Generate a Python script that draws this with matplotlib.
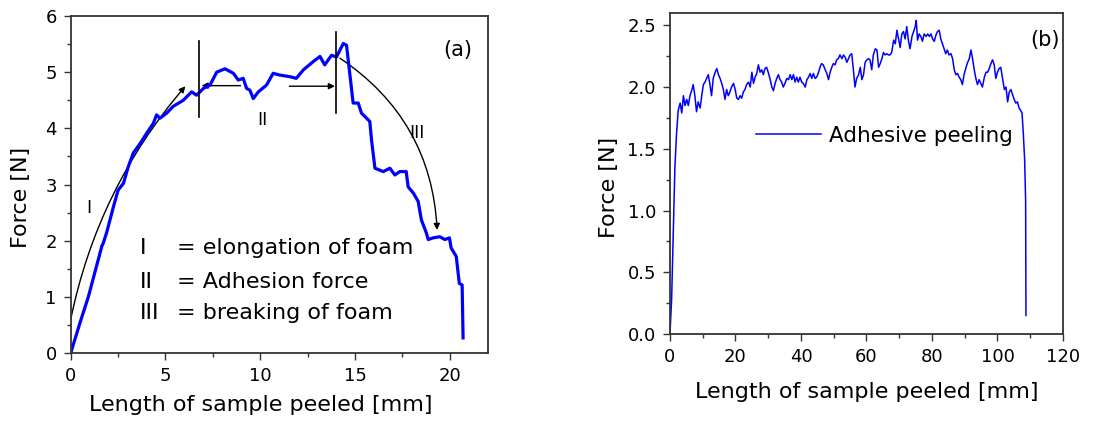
import matplotlib
matplotlib.use("Agg")
import matplotlib.pyplot as plt
from matplotlib.ticker import MultipleLocator, FormatStrFormatter
from matplotlib.patches import FancyArrowPatch

plt.rcParams['font.family'] = ['DejaVu Sans']

# ---------------- data: panel (a) ----------------
a_len = [0.0, 0.5, 0.93, 1.64, 1.72, 1.9, 2.25, 2.5, 2.78, 3.04, 3.3, 3.66, 4.0,
         4.36, 4.53, 4.71, 5.06, 5.4, 5.94, 6.38, 6.64, 7.0, 7.35, 7.7, 8.14, 8.58,
         8.84, 9.1, 9.28, 9.45, 9.63, 9.9, 10.33, 10.68, 11.0, 11.56, 11.9, 12.27,
         12.8, 13.15, 13.4, 13.76, 14.02, 14.38, 14.55, 14.9, 15.17, 15.34, 15.7,
         15.78, 15.87, 16.05, 16.49, 16.84, 17.1, 17.36, 17.7, 17.8, 18.07, 18.33,
         18.5, 18.77, 18.86, 19.12, 19.47, 19.74, 19.98, 20.07, 20.34, 20.5, 20.65,
         20.7]
a_force = [0.0, 0.55, 1.0, 1.9, 1.96, 2.15, 2.6, 2.9, 3.02, 3.32, 3.56, 3.73, 3.91,
           4.09, 4.24, 4.18, 4.27, 4.39, 4.5, 4.65, 4.59, 4.71, 4.77, 5.0, 5.06, 4.98,
           4.86, 4.89, 4.71, 4.68, 4.53, 4.65, 4.77, 4.98, 4.95, 4.92, 4.89, 5.04,
           5.19, 5.28, 5.13, 5.3, 5.27, 5.51, 5.48, 4.45, 4.45, 4.27, 4.15,
           4.12, 3.79, 3.29, 3.23, 3.29, 3.17, 3.23, 3.23, 2.96, 2.85, 2.70,
           2.37, 2.13, 2.02, 2.05, 2.07, 2.02, 2.05, 1.87, 1.72, 1.24, 1.21,
           0.27]

# ---------------- data: panel (b) ----------------
b_len = [0.0, 0.5, 1.0, 1.5, 2.0, 2.5, 3.1, 3.6, 4.1, 4.6, 5.1, 5.6, 6.1, 6.6, 7.1,
         7.6, 8.1, 8.6, 9.2, 9.7, 10.2, 10.7, 11.2, 11.7, 12.2, 12.7, 13.2, 13.8,
         14.3, 14.8, 15.3, 15.8, 16.3, 16.8, 17.3, 17.8, 18.3, 18.8, 19.4, 19.9,
         20.4, 20.9, 21.4, 21.9, 22.4, 22.9, 23.4, 24.0, 24.5, 25.0, 25.5, 26.0,
         26.5, 27.0, 27.5, 28.0, 28.5, 29.0, 29.5, 30.0, 30.6, 31.1, 31.6, 32.1,
         32.6, 33.1, 33.6, 34.1, 34.6, 35.1, 35.7, 36.2, 36.7, 37.2, 37.7, 38.2,
         38.7, 39.2, 39.7, 40.2, 40.7, 41.3, 41.8, 42.3, 42.8, 43.3, 43.8, 44.3,
         44.8, 45.4, 45.8, 46.3, 46.8, 47.4, 47.9, 48.4, 48.9, 49.4, 49.9, 50.4,
         50.9, 51.4, 51.9, 52.5, 53.0, 53.5, 54.0, 54.5, 55.0, 55.5, 56.0, 56.5,
         57.0, 57.6, 58.1, 58.6, 59.1, 59.6, 60.1, 60.6, 61.1, 61.6, 62.1, 62.7,
         63.2, 63.7, 64.2, 64.7, 65.2, 65.7, 66.2, 66.7, 67.2, 67.7, 68.3, 68.8,
         69.3, 69.8, 70.3, 70.8, 71.3, 71.8, 72.3, 72.8, 73.3, 73.9, 74.4, 74.9,
         75.2, 75.6, 76.1, 76.6, 77.1, 77.6, 78.2, 78.7, 79.2, 79.7, 80.2, 80.7,
         81.2, 81.7, 82.2, 82.7, 83.2, 83.7, 84.2, 84.7, 85.2, 85.8, 86.3, 86.8,
         87.3, 87.8, 88.3, 88.8, 89.3, 89.8, 90.4, 90.9, 91.4, 91.9, 92.4, 92.9,
         93.4, 93.9, 94.4, 94.9, 95.4, 96.0, 96.5, 97.0, 97.5, 98.0, 98.5, 99.0,
         99.5, 100.0, 100.5, 101.0, 101.6, 102.1, 102.6, 103.1, 103.6, 104.1,
         104.6, 105.1, 105.6, 106.1, 106.6, 107.1, 107.5, 107.9, 108.3, 108.6,
         108.7]
b_force = [0.0, 0.28, 0.81, 1.35, 1.62, 1.81, 1.87, 1.79, 1.93, 1.85, 1.90, 1.85,
           1.93, 1.97, 2.02, 1.93, 1.80, 1.88, 1.83, 1.93, 2.02, 2.04, 2.07, 2.10,
           2.02, 1.93, 2.07, 2.12, 2.15, 2.10, 2.07, 2.03, 1.98, 1.90, 1.98, 1.93,
           1.96, 2.00, 2.03, 1.98, 1.91, 1.90, 1.93, 1.91, 1.96, 1.98, 2.02, 2.04,
           2.00, 2.12, 2.03, 2.08, 2.11, 2.18, 2.12, 2.14, 2.10, 2.15, 2.16, 2.12,
           2.06, 2.00, 1.97, 2.03, 2.07, 2.10, 2.06, 2.04, 2.00, 2.03, 2.07, 2.06,
           2.10, 2.06, 2.10, 2.04, 2.08, 2.04, 2.08, 2.04, 2.03, 2.00, 2.06, 2.08,
           2.11, 2.07, 2.11, 2.07, 2.08, 2.12, 2.16, 2.19, 2.18, 2.14, 2.11, 2.06,
           2.12, 2.16, 2.19, 2.18, 2.22, 2.23, 2.26, 2.23, 2.26, 2.24, 2.20, 2.23,
           2.26, 2.27, 2.14, 2.00, 2.07, 2.10, 2.16, 2.06, 2.10, 2.20, 2.22, 2.23,
           2.22, 2.14, 2.26, 2.31, 2.30, 2.16, 2.19, 2.23, 2.28, 2.26, 2.27, 2.26,
           2.26, 2.28, 2.38, 2.35, 2.46, 2.39, 2.32, 2.43, 2.45, 2.39, 2.49, 2.38,
           2.31, 2.41, 2.45, 2.49, 2.54, 2.38, 2.43, 2.41, 2.37, 2.43, 2.41, 2.43,
           2.41, 2.43, 2.39, 2.37, 2.42, 2.45, 2.46, 2.39, 2.35, 2.31, 2.27, 2.30,
           2.26, 2.27, 2.23, 2.14, 2.10, 2.11, 2.08, 2.06, 2.02, 2.10, 2.16, 2.20,
           2.23, 2.30, 2.23, 2.14, 2.07, 2.02, 2.06, 2.03, 2.00, 2.08, 2.12, 2.12,
           2.15, 2.19, 2.22, 2.18, 2.07, 2.12, 2.15, 2.16, 2.06, 1.98, 2.00, 1.88,
           1.96, 1.98, 1.94, 1.90, 1.87, 1.88, 1.83, 1.81, 1.79, 1.62, 1.41, 1.08,
           0.15]

# ---------------- annotations (a) ----------------
phase_lines_x = [6.75, 14.02]
phase_lines_y = [(4.21, 5.56), (4.27, 5.72)]
legend_rows = [("I", "= elongation of foam"), ("II", "= Adhesion force"),
               ("III", "= breaking of foam")]
legend_rows_y = [1.87, 1.27, 0.71]

BLUE = '#0000FF'
SPINE = '#333333'

fig = plt.figure(figsize=(11.12, 4.21), dpi=100)
ax1 = fig.add_axes([0.0636, 0.1615, 0.375, 0.8005])
ax2 = fig.add_axes([0.6025, 0.2067, 0.3534, 0.7625])

for ax in (ax1, ax2):
    for s in ax.spines.values():
        s.set_color(SPINE)
        s.set_linewidth(1.3)
    ax.tick_params(which='both', direction='out', top=False, right=False,
                   color=SPINE, labelsize=13, width=1.0)
    ax.tick_params(which='major', length=5, pad=5)
    ax.tick_params(which='minor', length=3)

# panel (a)
ax1.plot(a_len, a_force, color=BLUE, lw=2.3, solid_joinstyle='round')
ax1.set_xlim(0, 22)
ax1.set_ylim(0, 6)
ax1.xaxis.set_major_locator(MultipleLocator(5))
ax1.xaxis.set_minor_locator(MultipleLocator(2.5))
ax1.yaxis.set_major_locator(MultipleLocator(1))
ax1.yaxis.set_minor_locator(MultipleLocator(0.5))
ax1.set_xlabel("Length of sample peeled [mm]", fontsize=16)
ax1.set_ylabel("Force [N]", fontsize=16)
ax1.xaxis.set_label_coords(0.456, -0.125)
ax1.yaxis.set_label_coords(-0.095, 0.463)

for x, (y0, y1) in zip(phase_lines_x, phase_lines_y):
    ax1.plot([x, x], [y0, y1], color='black', lw=1.2)

arrow_kw = dict(arrowstyle='-|>', mutation_scale=9, color='black', lw=1.0,
                shrinkA=0, shrinkB=0)
ax1.add_patch(FancyArrowPatch((0.0, 0.6), (6.05, 4.75),
                              connectionstyle='arc3,rad=-0.13', **arrow_kw))
ax1.add_patch(FancyArrowPatch((14.2, 5.25), (19.33, 2.19),
                              connectionstyle='arc3,rad=-0.25', **arrow_kw))
ax1.add_patch(FancyArrowPatch((8.96, 4.76), (6.9, 4.76), **arrow_kw))
ax1.add_patch(FancyArrowPatch((11.53, 4.75), (13.94, 4.75), **arrow_kw))

ax1.text(0.98, 2.58, "I", fontsize=12.5, ha='center', va='center')
ax1.text(10.12, 4.15, "II", fontsize=12.5, ha='center', va='center')
ax1.text(18.24, 3.91, "III", fontsize=12.5, ha='center', va='center')
for (num, desc), y in zip(legend_rows, legend_rows_y):
    ax1.text(3.66, y, num, fontsize=16, ha='left', va='center')
    ax1.text(5.59, y, desc, fontsize=16, ha='left', va='center')
ax1.text(0.929, 0.899, "(a)", transform=ax1.transAxes, fontsize=15,
         ha='center', va='center')

# panel (b)
ax2.plot(b_len, b_force, color=BLUE, lw=1.1, label="Adhesive peeling")
ax2.set_xlim(0, 120)
ax2.set_ylim(0, 2.6)
ax2.xaxis.set_major_locator(MultipleLocator(20))
ax2.xaxis.set_minor_locator(MultipleLocator(10))
ax2.yaxis.set_major_locator(MultipleLocator(0.5))
ax2.yaxis.set_minor_locator(MultipleLocator(0.25))
ax2.yaxis.set_major_formatter(FormatStrFormatter('%.1f'))
ax2.set_xlabel("Length of sample peeled [mm]", fontsize=16)
ax2.set_ylabel("Force [N]", fontsize=16)
ax2.xaxis.set_label_coords(0.5, -0.15)
ax2.yaxis.set_label_coords(-0.13, 0.458)
ax2.legend(loc='center left', bbox_to_anchor=(0.22, 0.617), frameon=False,
           fontsize=15.5, handlelength=3.0, handletextpad=0.35,
           borderpad=0, borderaxespad=0)
ax2.text(0.954, 0.916, "(b)", transform=ax2.transAxes, fontsize=15,
         ha='center', va='center')

fig.savefig("out.png", dpi=100)
